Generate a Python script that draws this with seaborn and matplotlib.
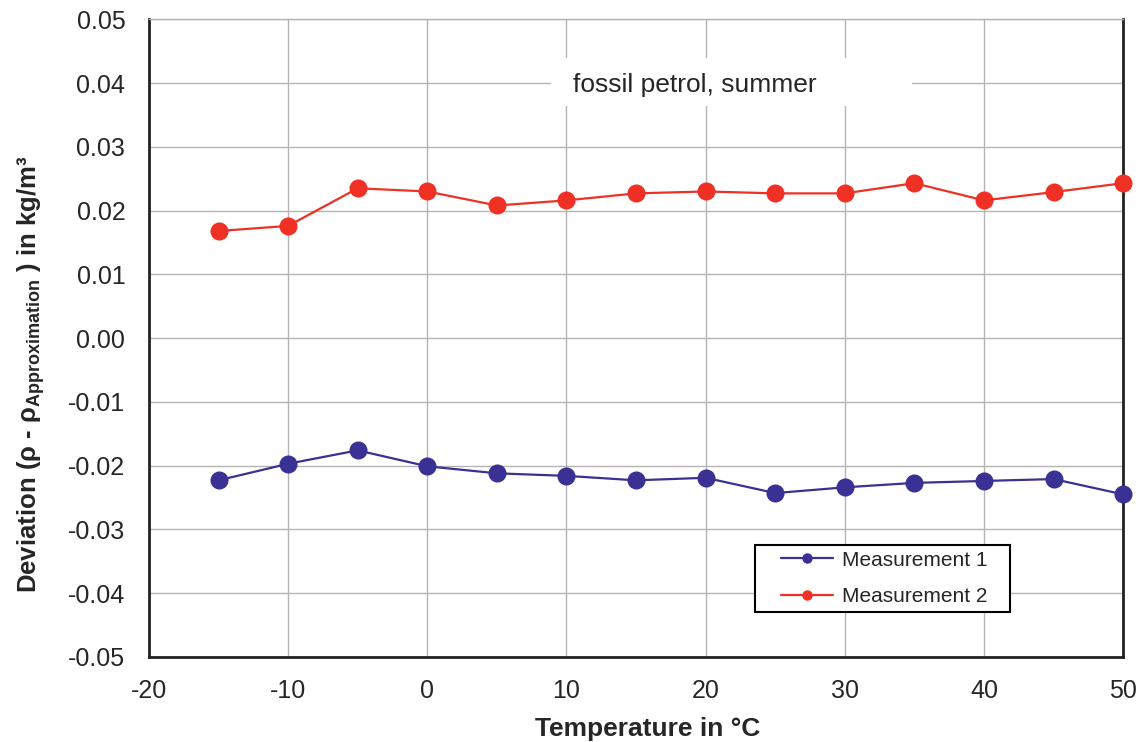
import matplotlib
matplotlib.use("Agg")
import matplotlib.pyplot as plt
from matplotlib.patches import Rectangle
import pandas as pd
import seaborn as sns

# temperatures in degC
temperature = [-15, -10, -5, 0, 5, 10, 15, 20, 25, 30, 35, 40, 45, 50]
# deviation rho - rho_approx in kg/m3
measurement_1 = [-0.0223, -0.0197, -0.0176, -0.0201, -0.0212, -0.0216, -0.0223,
                 -0.0219, -0.0243, -0.0234, -0.0227, -0.0224, -0.0221, -0.0245]
measurement_2 = [0.0168, 0.0176, 0.0235, 0.0230, 0.0208, 0.0216, 0.0227,
                 0.0230, 0.0227, 0.0227, 0.0243, 0.0216, 0.0229, 0.0243]
series_names = ["Measurement 1", "Measurement 2"]
series_colors = ["#3a3194", "#ee3124"]

df = pd.DataFrame({
    "temp": temperature * 2,
    "dev": measurement_1 + measurement_2,
    "series": [series_names[0]] * len(temperature) + [series_names[1]] * len(temperature),
})

sns.set_style("white")
plt.rcParams["font.family"] = ["Liberation Sans", "DejaVu Sans"]
plt.rcParams["axes.unicode_minus"] = False
plt.rcParams["mathtext.fontset"] = "custom"
plt.rcParams["mathtext.rm"] = "Liberation Sans:bold"
plt.rcParams["mathtext.it"] = "Liberation Sans:bold"
plt.rcParams["mathtext.bf"] = "Liberation Sans:bold"

fig = plt.figure(figsize=(11.46, 7.42), dpi=100)
ax = fig.add_axes([0.130, 0.1146, 0.850, 0.8594])

sns.lineplot(data=df, x="temp", y="dev", hue="series", palette=series_colors,
             marker="o", markersize=13, markeredgewidth=0, linewidth=1.6,
             ax=ax, legend=True, zorder=3)
for ln in ax.lines:
    ln.set_clip_on(False)

ax.set_xlim(-20, 50)
ax.set_ylim(-0.05, 0.05)
ax.set_xticks(range(-20, 51, 10))
ax.set_yticks([i / 100 for i in range(-5, 6)])
ax.set_yticklabels([f"{i / 100:.2f}" for i in range(-5, 6)])
ax.grid(True, color="#b4b4b4", linewidth=1)
ax.tick_params(axis="y", labelsize=18, length=0, pad=17)
ax.tick_params(axis="x", labelsize=18, length=0, pad=16)
for s in ax.spines.values():
    s.set_color("#222222")
    s.set_linewidth(2)
ax.spines["top"].set_color("#b4b4b4")
ax.spines["top"].set_linewidth(1)

ax.set_xlabel("Temperature in °C", fontsize=19, fontweight="bold", labelpad=10)
ax.xaxis.label.set_x(0.512)
ax.set_ylabel(r"Deviation ($\rho$ - $\rho_{\mathrm{Approximation}}$ ) in kg/m³",
              fontsize=18.5, fontweight="bold", labelpad=15)
ax.yaxis.label.set_y(0.444)

# white box behind the annotation (hides gridlines)
ax.add_patch(Rectangle((8.9, 0.0364), 25.9, 0.0075, facecolor="white",
                       edgecolor="none", zorder=1.5))
ax.text(19.2, 0.0397, "fossil petrol, summer", fontsize=19, ha="center",
        va="center", zorder=5)

# legend with a wide rectangular frame
leg = ax.legend(loc="center", bbox_to_anchor=(0.755, 0.123), fontsize=15,
                frameon=False, title=None, handlelength=2.5,
                borderpad=0.3, labelspacing=0.85, handletextpad=0.45)
for h in leg.get_lines():
    h.set_markersize(7.5)
ax.add_patch(Rectangle((0.622, 0.0705), 0.262, 0.105, transform=ax.transAxes,
                       facecolor="white", edgecolor="black", linewidth=1.5,
                       zorder=4))
leg.set_zorder(6)

fig.savefig("out.png", dpi=100)
